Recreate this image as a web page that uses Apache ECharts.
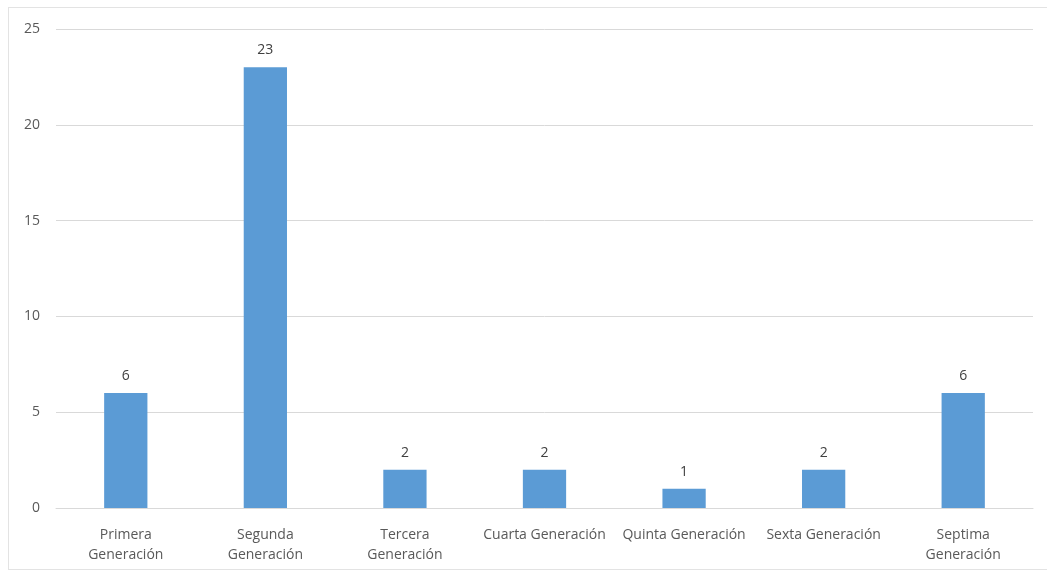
<!DOCTYPE html>
<html>
<head>
<meta charset="utf-8">
<script src="https://cdn.jsdelivr.net/npm/echarts@6/dist/echarts.min.js"></script>
<style>
  html, body { margin: 0; padding: 0; background: #ffffff; overflow: hidden; }
  #frame {
    position: absolute; left: 8px; top: 7px; width: 1060px; height: 563px;
    border: 1px solid #e3e3e3; box-sizing: border-box;
  }
  #chart { position: absolute; left: 0; top: 0; width: 1047px; height: 575px; }
</style>
</head>
<body>
<div id="frame"></div>
<div id="chart"></div>
<script>
// Número de consolas por generación
const categories = [
  'Primera\nGeneración',
  'Segunda\nGeneración',
  'Tercera\nGeneración',
  'Cuarta Generación',
  'Quinta Generación',
  'Sexta Generación',
  'Septima\nGeneración'
];
const values = [6, 23, 2, 2, 1, 2, 6];
const yTicks = { min: 0, max: 25, interval: 5 };

const chart = echarts.init(document.getElementById('chart'), null, { renderer: 'canvas' });
const fontFamily = '"Open Sans", "Noto Sans", sans-serif';

chart.setOption({
  animation: false,
  grid: { left: 56, right: 14, top: 29, bottom: 67, containLabel: false },
  xAxis: {
    type: 'category',
    data: categories,
    axisLine: { show: true, lineStyle: { color: '#d9d9d9', width: 1 } },
    axisTick: { show: false },
    axisLabel: {
      color: '#595959', fontFamily, fontSize: 14, lineHeight: 20,
      interval: 0, margin: 17
    }
  },
  yAxis: {
    type: 'value',
    min: yTicks.min, max: yTicks.max, interval: yTicks.interval,
    axisLine: { show: false },
    axisTick: { show: false },
    axisLabel: { color: '#595959', fontFamily, fontSize: 14, margin: 16 },
    splitLine: { lineStyle: { color: '#d9d9d9', width: 1 } }
  },
  series: [{
    type: 'bar',
    data: values,
    barWidth: '31%',
    itemStyle: { color: '#5b9bd5' },
    label: {
      show: true, position: 'top', distance: 10,
      color: '#404040', fontFamily, fontSize: 14
    }
  }]
});
</script>
</body>
</html>
